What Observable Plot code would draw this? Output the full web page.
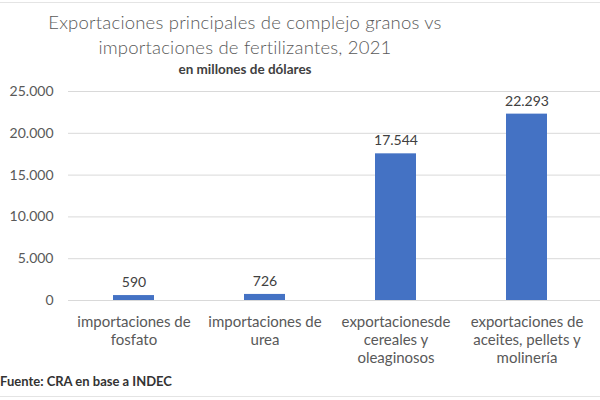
<!DOCTYPE html>
<html>
<head>
<meta charset="utf-8">
<script src="https://cdn.jsdelivr.net/npm/d3@7"></script>
<script src="https://cdn.jsdelivr.net/npm/@observablehq/plot@0.6"></script>
<style>
  html, body { margin: 0; padding: 0; background: #fff; width: 600px; height: 400px; overflow: hidden; position: relative; font-family: Lato, "Open Sans", sans-serif; }
  #frameTop { position: absolute; left: 0; top: 2px; width: 600px; height: 1px; background: #e4e4e4; }
  #frameBot { position: absolute; left: 0; top: 396px; width: 600px; height: 1px; background: #e4e4e4; }
  #head { position: absolute; left: 0; top: 0; width: 490px; text-align: center; color: #595959; }
  #t1 { position: absolute; top: 11px; width: 490px; font-size: 18.5px; font-weight: 300; letter-spacing: 0.2px; }
  #t2 { position: absolute; top: 36px; width: 490px; font-size: 18.5px; font-weight: 300; letter-spacing: 0.2px; }
  #sub { position: absolute; top: 61px; width: 490px; font-size: 13.5px; font-weight: 700; color: #404040; }
  #chart { position: absolute; left: 0; top: 80px; }
  #cap { position: absolute; left: 0; top: 373px; font-size: 13px; font-weight: 700; color: #333; }
</style>
</head>
<body>
<div id="frameTop"></div>
<div id="head">
  <div id="t1">Exportaciones principales de complejo granos vs</div>
  <div id="t2">importaciones de fertilizantes, 2021</div>
  <div id="sub">en millones de dólares</div>
</div>
<div id="chart"></div>
<div id="cap">Fuente: CRA en base a INDEC</div>
<div id="frameBot"></div>
<script>
const categories = [
  "importaciones de\nfosfato",
  "importaciones de\nurea",
  "exportacionesde\ncereales y\noleaginosos",
  "exportaciones de\naceites, pellets y\nmolinería"
];
const values = [590, 726, 17544, 22293];
const valueLabels = ["590", "726", "17.544", "22.293"];
const yTicks = [0, 5000, 10000, 15000, 20000, 25000];
const yTickLabels = ["0", "5.000", "10.000", "15.000", "20.000", "25.000"];

const data = categories.map((c, i) => ({cat: c, value: values[i], label: valueLabels[i]}));

const plot = Plot.plot({
  width: 600,
  height: 290,
  marginTop: 11,
  marginBottom: 70,
  marginLeft: 68,
  marginRight: 0,
  style: { fontFamily: "Lato, 'Open Sans', sans-serif", background: "transparent" },
  x: { domain: categories, range: [68, 592], paddingInner: 0.69, paddingOuter: 0.345, label: null },
  y: { domain: [0, 25000], label: null },
  marks: [
    Plot.ruleY(yTicks, { stroke: "#d9d9d9", strokeWidth: 1 }),
    Plot.barY(data, { x: "cat", y: "value", fill: "#4472C4" }),
    Plot.text(data, { x: "cat", y: "value", text: "label", dy: -13, fontSize: 14, fill: "#404040" }),
    Plot.axisY(yTicks, {
      tickSize: 0, tickPadding: 15, fontSize: 14, color: "#595959",
      tickFormat: (d) => yTickLabels[yTicks.indexOf(d)]
    }),
    Plot.axisX({
      tickSize: 0, tickPadding: 14, fontSize: 15, color: "#595959", lineHeight: 1.2
    })
  ]
});
document.getElementById("chart").appendChild(plot);
</script>
</body>
</html>
